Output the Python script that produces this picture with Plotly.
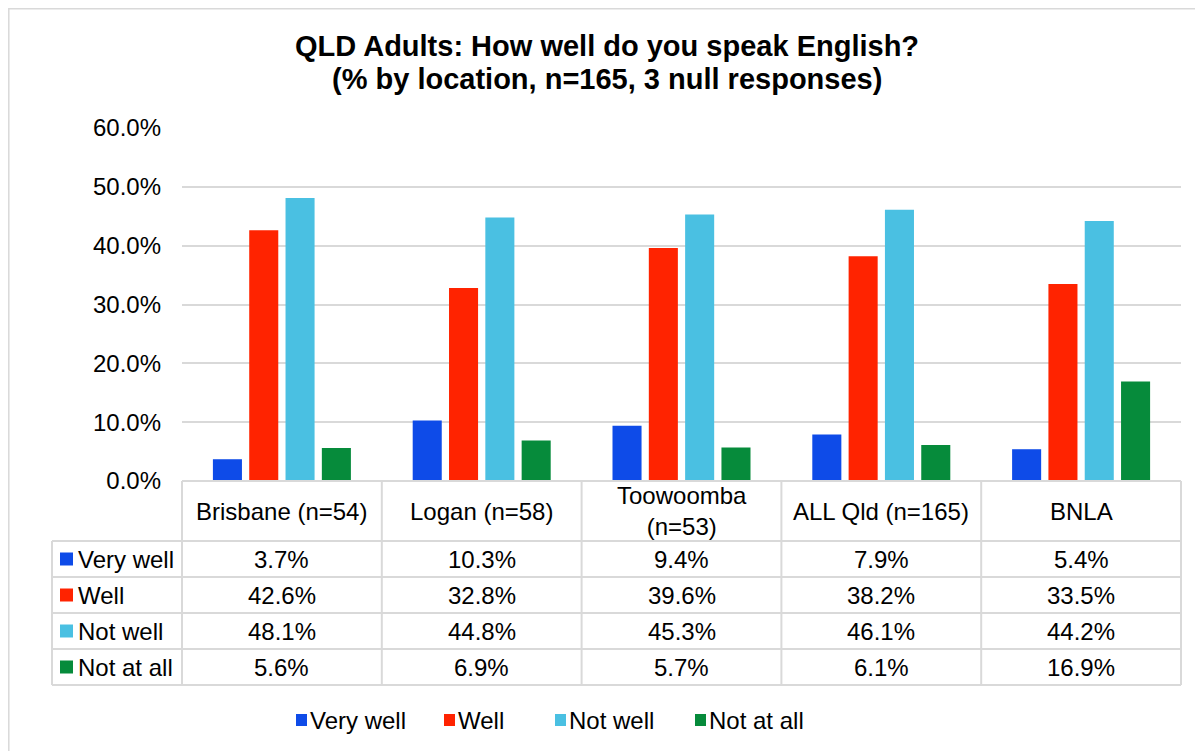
import plotly.graph_objects as go

# ---------------- data ----------------
categories = ["Brisbane (n=54)", "Logan (n=58)", "Toowoomba (n=53)", "ALL Qld (n=165)", "BNLA"]
header_labels = ["Brisbane (n=54)", "Logan (n=58)", "Toowoomba<br>(n=53)", "ALL Qld (n=165)", "BNLA"]
series_names = ["Very well", "Well", "Not well", "Not at all"]
very_well = [3.7, 10.3, 9.4, 7.9, 5.4]
well = [42.6, 32.8, 39.6, 38.2, 33.5]
not_well = [48.1, 44.8, 45.3, 46.1, 44.2]
not_at_all = [5.6, 6.9, 5.7, 6.1, 16.9]
series_values = [very_well, well, not_well, not_at_all]
series_colors = ["#0E4BE8", "#FF2300", "#4AC0E2", "#068B3B"]
y_ticks = [0, 10, 20, 30, 40, 50, 60]
title_lines = ["QLD Adults: How well do you speak English?",
               "(% by location, n=165, 3 null responses)"]

# ---------------- layout geometry (page pixels; page has an 8px body margin) ----------------
OFF = 8
W, H = 1203 - OFF, 751 - OFF
L, R, T, B = 182 - OFF, 22, 128 - OFF, 270
PW, PH = W - L - R, H - T - B


def px_x(px):
    return (px - 182) / PW


def px_y(py):
    return (481 - py) / PH


GRID = "#D9D9D9"
FONT = "Liberation Sans, Arial, sans-serif"
FS = 24

fig = go.Figure()
for name, vals, col in zip(series_names, series_values, series_colors):
    fig.add_trace(go.Bar(
        x=categories, y=vals, name=name, marker=dict(color=col, line=dict(width=0)),
        showlegend=False,
    ))

shapes = []
annotations = []

# outer chart border
shapes.append(dict(type="rect", xref="paper", yref="paper",
                   x0=px_x(8.8), x1=px_x(1215), y0=px_y(8.8), y1=px_y(765),
                   line=dict(color=GRID, width=1.5), fillcolor="rgba(0,0,0,0)", layer="below"))

# data table
row_px = [481, 541, 577, 613, 649, 685]
label_left = px_x(52)
ncat = len(categories)
for py in row_px:
    x0 = 0 if py == row_px[0] else label_left
    shapes.append(dict(type="line", xref="paper", yref="paper", x0=x0, x1=1,
                       y0=px_y(py), y1=px_y(py), line=dict(color=GRID, width=2)))
for i in range(ncat + 1):
    xv = i / ncat
    shapes.append(dict(type="line", xref="paper", yref="paper", x0=xv, x1=xv,
                       y0=px_y(row_px[0]), y1=px_y(row_px[-1]), line=dict(color=GRID, width=2)))
shapes.append(dict(type="line", xref="paper", yref="paper", x0=label_left, x1=label_left,
                   y0=px_y(row_px[1]), y1=px_y(row_px[-1]), line=dict(color=GRID, width=2)))

# header cells
hdr_y = px_y((row_px[0] + row_px[1]) / 2)
for i, lab in enumerate(header_labels):
    annotations.append(dict(text=lab, x=(i + 0.5) / ncat, y=hdr_y, xref="paper", yref="paper",
                            showarrow=False, xanchor="center", yanchor="middle",
                            font=dict(size=FS, color="#000000", family=FONT)))

# series rows
for r, (name, vals, col) in enumerate(zip(series_names, series_values, series_colors)):
    top, bot = row_px[r + 1], row_px[r + 2]
    cy = (top + bot) / 2
    shapes.append(dict(type="rect", xref="paper", yref="paper",
                       x0=px_x(60), x1=px_x(73), y0=px_y(cy - 6.5), y1=px_y(cy + 6.5),
                       line=dict(width=0), fillcolor=col))
    annotations.append(dict(text=name, x=px_x(76), y=px_y(cy), xref="paper", yref="paper",
                            showarrow=False, xanchor="left", yanchor="middle",
                            font=dict(size=FS, color="#000000", family=FONT)))
    for i, v in enumerate(vals):
        annotations.append(dict(text=f"{v:.1f}%", x=(i + 0.5) / ncat, y=px_y(cy),
                                xref="paper", yref="paper", showarrow=False,
                                xanchor="center", yanchor="middle",
                                font=dict(size=FS, color="#000000", family=FONT)))

# bottom legend
leg_sq_px = [296, 444, 555, 695]
leg_cy = 720
for name, col, sx in zip(series_names, series_colors, leg_sq_px):
    shapes.append(dict(type="rect", xref="paper", yref="paper",
                       x0=px_x(sx), x1=px_x(sx + 11), y0=px_y(leg_cy - 6), y1=px_y(leg_cy + 6),
                       line=dict(width=0), fillcolor=col))
    annotations.append(dict(text=name, x=px_x(sx + 11.5), y=px_y(leg_cy), xref="paper", yref="paper",
                            showarrow=False, xanchor="left", yanchor="middle",
                            font=dict(size=FS, color="#000000", family=FONT)))

# title (two lines, tighter line spacing as in the reference)
for line, cy in zip(title_lines, [45.5, 79]):
    annotations.append(dict(text=f"<b>{line}</b>", x=px_x(607), y=px_y(cy), xref="paper", yref="paper",
                            showarrow=False, xanchor="center", yanchor="middle",
                            font=dict(size=29, color="#000000", family=FONT)))

fig.update_layout(
    width=W, height=H,
    margin=dict(l=L, r=R, t=T, b=B, pad=0),
    paper_bgcolor="white", plot_bgcolor="white",
    barmode="group", bargap=0.273, bargroupgap=0.2,
    font=dict(family=FONT, size=FS, color="#000000"),
    xaxis=dict(showticklabels=False, showgrid=False, zeroline=False, showline=False,
               range=[-0.5, ncat - 0.5], fixedrange=True),
    yaxis=dict(range=[0, 60], tickvals=y_ticks, ticktext=[f"{t:.1f}%" for t in y_ticks],
               showgrid=True, gridcolor=GRID, gridwidth=1.5, zeroline=False, showline=False,
               ticklabelstandoff=20, tickfont=dict(size=FS, color="#000000", family=FONT)),
    shapes=shapes, annotations=annotations,
)

fig.write_html("out.html")
